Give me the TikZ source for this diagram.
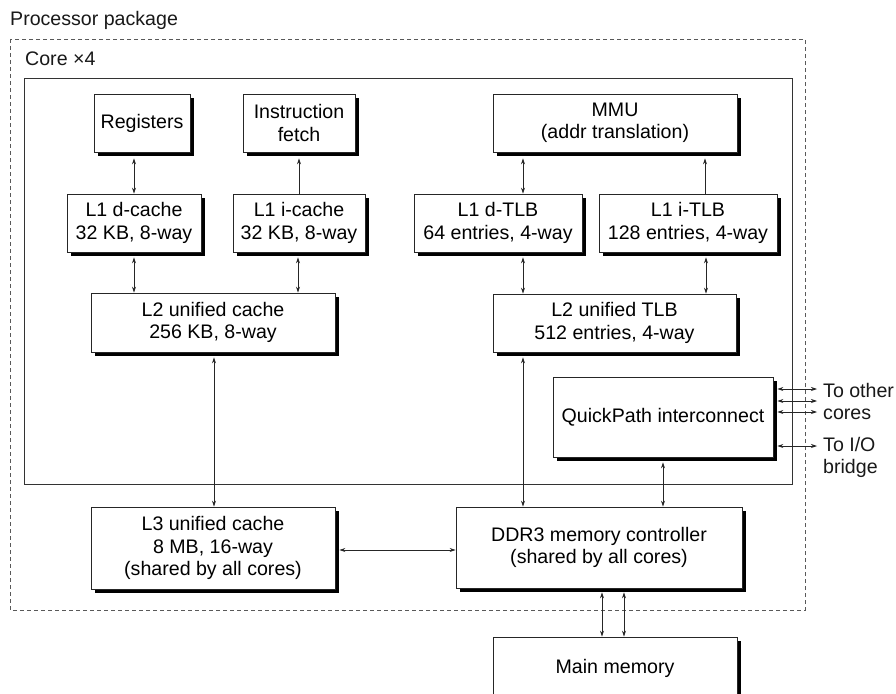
\documentclass[tikz,border=0pt]{standalone}
\usepackage{fontspec}
\setmainfont{Liberation Sans}
\usetikzlibrary{arrows.meta,shadows}
\begin{document}
\begin{tikzpicture}[x=1pt,y=-1pt,
  font=\fontsize{19.6}{22.5}\selectfont,
  box/.style={draw=black!85, line width=0.8pt, fill=white, align=center, inner sep=0pt,
    drop shadow={shadow xshift=3.5pt, shadow yshift=-3.5pt, fill=black, opacity=1}},
  tipstyle/.style={line width=0.75pt, draw=black!85},
  both/.style={tipstyle, {Stealth[length=6pt,width=4pt]}-{Stealth[length=6pt,width=4pt]}},
  single/.style={tipstyle, -{Stealth[length=6pt,width=4pt]}},
  lbl/.style={inner sep=0pt, text=black!90}]
\begin{scope}
\clip (0,0) rectangle (896,693);
\fill[white] (0,0) rectangle (896,693);
% package and core frames
\draw[draw=black!65, line width=0.8pt, dash pattern=on 4pt off 3pt] (10,39) rectangle (805,610);
\draw[draw=black!80, line width=0.8pt] (24,78) rectangle (792,484);
\node[lbl, anchor=base west] (pp) at (10,26) {Processor package};
\node[lbl, anchor=base west] (core) at (25,65) {Core ×4};

% top row
\node[box, minimum width=96pt, minimum height=58pt] (reg) at (142,123) {Registers};
\node[box, minimum width=112pt, minimum height=58pt] (ifetch) at (299,123) {Instruction\\fetch};
\node[box, minimum width=244pt, minimum height=58pt] (mmu) at (615,123) {MMU\\(addr translation)};
% L1 row
\node[box, minimum width=134pt, minimum height=58pt] (l1d) at (134,223) {L1 d-cache\\32 KB, 8-way};
\node[box, minimum width=132pt, minimum height=58pt] (l1i) at (299,223) {L1 i-cache\\32 KB, 8-way};
\node[box, minimum width=168pt, minimum height=58pt] (dtlb) at (498,223) {L1 d-TLB\\64 entries, 4-way};
\node[box, minimum width=178pt, minimum height=58pt] (itlb) at (688,223) {L1 i-TLB\\128 entries, 4-way};
% L2 row
\node[box, minimum width=244pt, minimum height=59pt] (l2) at (213,322.5) {L2 unified cache\\256 KB, 8-way};
\node[box, minimum width=243pt, minimum height=58pt] (l2tlb) at (614.5,323) {L2 unified TLB\\512 entries, 4-way};
% QPI
\node[box, minimum width=220pt, minimum height=80pt] (qpi) at (663,417) {QuickPath interconnect};
% bottom row
\node[box, minimum width=244pt, minimum height=82pt] (l3) at (213,548) {L3 unified cache\\8 MB, 16-way\\(shared by all cores)};
\node[box, minimum width=286pt, minimum height=81pt] (ddr) at (599,547.5) {DDR3 memory controller\\(shared by all cores)};
\node[box, minimum width=244pt, minimum height=62pt] (mem) at (615,668) {Main memory};

% vertical connectors
\draw[both, shorten <=6pt] (reg.south -| 134,0) -- (l1d.north -| 134,0);
\draw[single, shorten >=6pt] (l1i.north -| 299,0) -- (ifetch.south -| 299,0);
\draw[both, shorten <=6pt] (mmu.south -| 523,0) -- (dtlb.north -| 523,0);
\draw[single, shorten >=6pt] (itlb.north -| 705,0) -- (mmu.south -| 705,0);
\draw[both, shorten <=5pt] (l1d.south -| 134,0) -- (l2.north -| 134,0);
\draw[both, shorten <=5pt] (l1i.south -| 298,0) -- (l2.north -| 298,0);
\draw[both, shorten <=5pt] (dtlb.south -| 523,0) -- (l2tlb.north -| 523,0);
\draw[both, shorten <=5pt] (itlb.south -| 706,0) -- (l2tlb.north -| 706,0);
\draw[both, shorten <=5pt] (l2.south -| 214,0) -- (l3.north -| 214,0);
\draw[both, shorten <=5pt] (l2tlb.south -| 523,0) -- (ddr.north -| 523,0);
\draw[both, shorten <=5pt] (qpi.south -| 663,0) -- (ddr.north -| 663,0);
\draw[both, shorten <=4pt] (ddr.south -| 602,0) -- (mem.north -| 602,0);
\draw[both, shorten <=4pt] (ddr.south -| 624,0) -- (mem.north -| 624,0);
% horizontal
\draw[both, shorten <=4pt] (l3.east |- 0,550) -- (ddr.west |- 0,550);
% to the outside
\coordinate (o1) at (817,389);
\coordinate (o2) at (817,401);
\coordinate (o3) at (817,412);
\coordinate (o4) at (817,446);
\draw[both, shorten <=4pt] (qpi.east |- o1) -- (o1);
\draw[both, shorten <=4pt] (qpi.east |- o2) -- (o2);
\draw[both, shorten <=4pt] (qpi.east |- o3) -- (o3);
\draw[both, shorten <=4pt] (qpi.east |- o4) -- (o4);
\node[lbl, anchor=north west, align=left] (tocores) at (823,383) {To other\\cores};
\node[lbl, anchor=north west, align=left] (tobridge) at (823,437) {To I/O\\bridge};
\end{scope}
\pgfresetboundingbox
\useasboundingbox (0,0) rectangle (896,693);
\end{tikzpicture}
\end{document}
